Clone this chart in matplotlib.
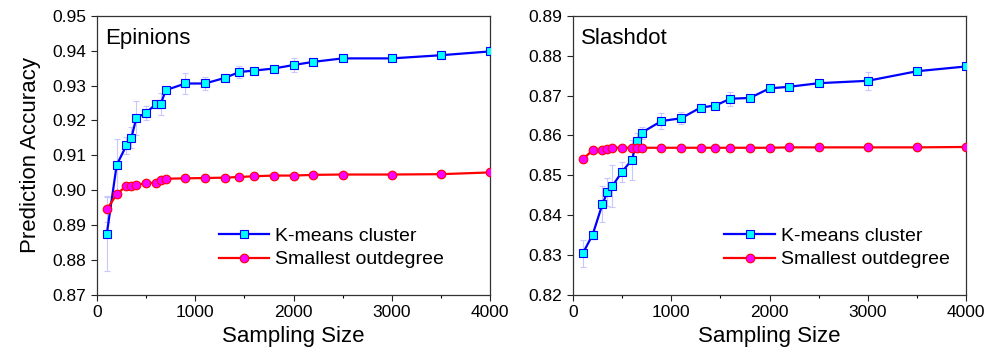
import numpy as np
import matplotlib.pyplot as plt
from matplotlib.ticker import MultipleLocator

plt.rcParams['font.family'] = ['Liberation Sans', 'DejaVu Sans']

# sampling sizes shared by both datasets
sizes = [100, 200, 300, 350, 400, 500, 600, 650, 700, 900, 1100, 1300, 1450,
         1600, 1800, 2000, 2200, 2500, 3000, 3500, 4000]

# Epinions
epi_kmeans = [0.8875, 0.9072, 0.9129, 0.9150, 0.9207, 0.9222, 0.9247, 0.9248,
              0.9287, 0.9306, 0.9306, 0.9322, 0.9339, 0.9343, 0.9349, 0.9359,
              0.9368, 0.9378, 0.9378, 0.9387, 0.9398]
epi_kmeans_err = [0.0107, 0.0075, 0.0024, 0.0030, 0.0050, 0.0020, 0.0010, 0.0031,
                  0.0008, 0.0029, 0.0019, 0.0010, 0.0017, 0.0008, 0.0008, 0.0020,
                  0.0008, 0.0008, 0.0008, 0.0008, 0.0005]
epi_small = [0.8945, 0.8988, 0.9013, 0.9013, 0.9016, 0.9020, 0.9022, 0.9030,
             0.9033, 0.9034, 0.9035, 0.9036, 0.9038, 0.9040, 0.9042, 0.9042,
             0.9044, 0.9045, 0.9045, 0.9046, 0.9051]
epi_small_err = [0.0035, 0.0010, 0.0005, 0.0005, 0.0005, 0.0005, 0.0005, 0.0005,
                 0.0005, 0.0005, 0.0005, 0.0005, 0.0005, 0.0005, 0.0005, 0.0005,
                 0.0005, 0.0005, 0.0005, 0.0005, 0.0005]

# Slashdot
sla_kmeans = [0.8304, 0.8351, 0.8428, 0.8458, 0.8473, 0.8509, 0.8539, 0.8585,
              0.8607, 0.8636, 0.8643, 0.8670, 0.8675, 0.8692, 0.8694, 0.8718,
              0.8722, 0.8731, 0.8737, 0.8761, 0.8773]
sla_kmeans_err = [0.0033, 0.0010, 0.0044, 0.0034, 0.0053, 0.0025, 0.0050, 0.0020,
                  0.0015, 0.0020, 0.0015, 0.0010, 0.0009, 0.0017, 0.0008, 0.0007,
                  0.0007, 0.0007, 0.0022, 0.0007, 0.0005]
sla_small = [0.8540, 0.8563, 0.8563, 0.8567, 0.8569, 0.8569, 0.8569, 0.8569,
             0.8569, 0.8569, 0.8569, 0.8569, 0.8569, 0.8569, 0.8569, 0.8569,
             0.8570, 0.8570, 0.8570, 0.8570, 0.8571]
sla_small_err = [0.0005] * len(sizes)

panels = [
    dict(name='Epinions', km=epi_kmeans, km_err=epi_kmeans_err,
         sm=epi_small, sm_err=epi_small_err, ylim=(0.87, 0.95),
         rect=[0.097, 0.181, 0.393, 0.775], leg=(0.31, 0.095)),
    dict(name='Slashdot', km=sla_kmeans, km_err=sla_kmeans_err,
         sm=sla_small, sm_err=sla_small_err, ylim=(0.82, 0.89),
         rect=[0.573, 0.181, 0.393, 0.775], leg=(0.385, 0.095)),
]

fig = plt.figure(figsize=(10, 3.6), dpi=100)

for i, p in enumerate(panels):
    ax = fig.add_axes(p['rect'])
    err_kw = dict(ecolor='#c8c8ff', elinewidth=0.8, capsize=2.5, capthick=0.8)
    h1 = ax.errorbar(sizes, p['km'], yerr=p['km_err'], color='#0000ff', lw=1.6,
                     marker='s', ms=5.5, mfc='#00ffff', mec='#0000ff', mew=0.8,
                     zorder=3, **err_kw)
    h2 = ax.errorbar(sizes, p['sm'], yerr=p['sm_err'], color='#ff0000', lw=1.6,
                     marker='o', ms=6.2, mfc='#ff00ff', mec='#ff0000', mew=0.8,
                     zorder=3, **err_kw)

    ax.set_xlim(0, 4000)
    ax.set_ylim(*p['ylim'])
    ax.xaxis.set_major_locator(MultipleLocator(1000))
    ax.xaxis.set_minor_locator(MultipleLocator(500))
    ax.yaxis.set_major_locator(MultipleLocator(0.01))
    ax.yaxis.set_major_formatter(plt.FormatStrFormatter('%.2f'))
    ax.tick_params(axis='both', which='major', direction='out', length=4,
                   width=0.8, labelsize=12.5, colors='#222222',
                   labelcolor='black')
    ax.tick_params(axis='x', which='minor', direction='out', length=2.5, width=0.8)
    for s in ax.spines.values():
        s.set_linewidth(0.9)
        s.set_color('#333333')

    ax.text(0.02, 0.955, p['name'], transform=ax.transAxes, fontsize=16,
            ha='left', va='top')
    ax.set_xlabel('Sampling Size', fontsize=16, labelpad=4)
    if i == 0:
        ax.set_ylabel('Prediction Accuracy', fontsize=16, labelpad=8)

    ax.legend([h1[0], h2[0]], ['K-means cluster', 'Smallest outdegree'],
              loc='lower left', bbox_to_anchor=p['leg'], frameon=False,
              fontsize=14, handlelength=2.6, handletextpad=0.3,
              labelspacing=0.3, borderpad=0, borderaxespad=0)

fig.savefig('out.png', dpi=100)
